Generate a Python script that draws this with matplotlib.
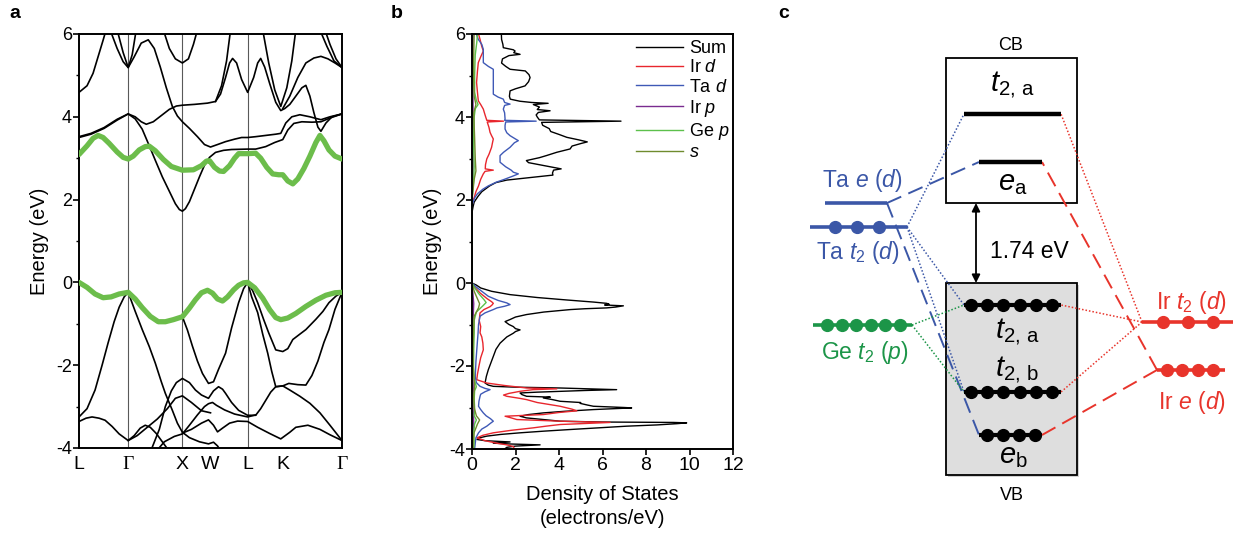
import numpy as np
import matplotlib.pyplot as plt
from matplotlib.patches import Rectangle

plt.rcParams['font.family'] = ['Liberation Sans', 'DejaVu Sans']
plt.rcParams['axes.unicode_minus'] = False
plt.rcParams['mathtext.fontset'] = 'custom'
plt.rcParams['mathtext.rm'] = 'Liberation Sans'
plt.rcParams['mathtext.it'] = 'Liberation Sans:italic'

# ---------------- (a) band structure along L-Γ-X-W-L-K-Γ ----------------
kpath_labels = ['L', 'Γ', 'X', 'W', 'L', 'K', 'Γ']
kpath_pos = [0, 49, 103, 131, 168, 203, 262]
kpath_lines = [49, 103, 168]

# highlighted Ge-p bands (k, E)
green_cb = [(0, 3.09), (8, 3.30), (14, 3.48), (19, 3.55), (24, 3.50), (30, 3.36), (38, 3.15), (44, 3.02),
            (49, 2.98), (54, 3.05), (60, 3.20), (66, 3.28), (70, 3.29), (76, 3.18), (84, 2.97), (92, 2.80),
            (103, 2.71), (114, 2.72), (122, 2.82), (127, 2.93), (130, 2.94), (135, 2.78), (140, 2.69),
            (144, 2.68), (150, 2.82), (155, 3.00), (159, 3.11), (168, 3.11), (176, 3.12), (181, 3.00),
            (187, 2.78), (193, 2.62), (199, 2.60), (203, 2.60), (208, 2.45), (213, 2.38), (218, 2.50),
            (224, 2.75), (230, 3.05), (236, 3.38), (240, 3.55), (244, 3.42), (249, 3.20), (255, 3.05),
            (262, 2.98)]
green_vb = [(0, 0.0), (8, -0.12), (16, -0.28), (24, -0.37), (32, -0.35), (40, -0.28), (49, -0.24),
            (56, -0.40), (63, -0.61), (71, -0.82), (79, -0.95), (86, -0.95), (94, -0.90), (103, -0.83),
            (110, -0.62), (116, -0.42), (122, -0.25), (128, -0.19), (133, -0.26), (138, -0.40), (143, -0.45),
            (148, -0.35), (154, -0.18), (159, -0.07), (164, -0.01), (168, 0.0), (175, -0.13), (183, -0.38),
            (190, -0.66), (196, -0.85), (201, -0.90), (208, -0.86), (216, -0.75), (226, -0.58), (236, -0.43),
            (246, -0.31), (255, -0.25), (262, -0.24)]

# conduction bands
cb1 = [(0, 3.50), (12, 3.58), (25, 3.72), (38, 3.92), (49, 4.07), (56, 3.95), (63, 3.70), (70, 3.30),
       (76, 2.95), (83, 2.55), (90, 2.20), (96, 1.90), (100, 1.76), (103, 1.72), (106, 1.78), (110, 1.95),
       (115, 2.25), (120, 2.55), (125, 2.83), (130, 3.02), (136, 3.14), (144, 3.19), (152, 3.21),
       (168, 3.22), (176, 3.22), (186, 3.28), (195, 3.38), (203, 3.45), (208, 3.68), (214, 3.84),
       (222, 3.88), (232, 3.87), (241, 3.88), (250, 3.97), (262, 4.07)]
cb2 = [(0, 3.52), (12, 3.60), (25, 3.74), (38, 3.94), (49, 4.07), (56, 4.00), (62, 3.88), (67, 3.82),
       (74, 3.88), (82, 4.03), (90, 4.18), (97, 4.26), (103, 4.28), (115, 4.30), (128, 4.33), (136, 4.37),
       (141, 4.55), (146, 4.95), (150, 5.30), (153, 5.41), (157, 5.30), (162, 4.90), (168, 4.59),
       (174, 4.95), (178, 5.30), (181, 5.41), (185, 5.20), (190, 4.80), (196, 4.35), (201, 4.15),
       (205, 4.20), (210, 4.30), (216, 4.50), (222, 4.70), (226, 4.76), (230, 4.50), (234, 4.10),
       (238, 3.75), (241, 3.65), (246, 3.85), (252, 4.00), (262, 4.07)]
cb3 = [(38, 6.10), (44, 5.55), (49, 5.19), (55, 5.45), (62, 5.78), (69, 5.86), (75, 5.65), (81, 5.20),
       (87, 4.70), (93, 4.25), (98, 4.02), (103, 3.88), (110, 3.72), (118, 3.52), (125, 3.33), (131, 3.27),
       (138, 3.33), (146, 3.40), (155, 3.46), (162, 3.50), (168, 3.50), (176, 3.52), (186, 3.55),
       (196, 3.58), (201, 3.60), (206, 3.85), (212, 4.00), (220, 4.05), (230, 4.00), (241, 3.93),
       (250, 4.00), (262, 4.07)]
cb4 = [(0, 4.59), (8, 4.75), (14, 5.05), (19, 5.45), (24, 5.85), (27, 6.10)]
cb5 = [(31, 6.10), (38, 5.65), (44, 5.33), (49, 5.19), (53, 5.50), (57, 6.10)]
cb6 = [(84, 6.10), (90, 5.65), (96, 5.40), (103, 5.30), (109, 5.40), (114, 5.75), (118, 6.10)]
cb7 = [(136, 4.37), (142, 4.75), (147, 5.35), (151, 6.10)]
cb8 = [(183, 6.10), (189, 5.30), (195, 4.65), (201, 4.25), (207, 4.70), (212, 5.35), (216, 6.10)]
cb9 = [(203, 4.20), (210, 4.50), (218, 4.95), (226, 5.30), (234, 5.42), (241, 5.46), (248, 5.40),
       (255, 5.30), (262, 5.19)]
cb10 = [(245, 6.10), (250, 5.75), (256, 5.40), (262, 5.19)]
cb11 = [(240, 6.10), (247, 5.70), (254, 5.35), (262, 5.19)]

# valence bands
vb1 = [(0, -3.25), (8, -3.05), (16, -2.60), (23, -2.00), (29, -1.46), (35, -0.95), (40, -0.60),
       (45, -0.35), (49, -0.24)]
vb2 = [(49, -0.24), (56, -0.70), (63, -1.14), (70, -1.55), (76, -1.95), (82, -2.40), (86, -2.68),
       (93, -3.09), (98, -3.40), (103, -3.62), (110, -3.75), (120, -3.85), (129, -3.90), (134, -3.86),
       (138, -3.95), (142, -4.10)]
vb3 = [(103, -0.83), (108, -1.15), (113, -1.54), (118, -1.90), (123, -2.20), (129, -2.44), (134, -2.40),
       (139, -2.10), (146, -1.71), (152, -1.10), (159, -0.49), (164, -0.15), (168, 0.0)]
vb4 = [(168, 0.0), (173, -0.20), (178, -0.49), (184, -0.90), (189, -1.22), (196, -1.63), (203, -1.67),
       (208, -1.60), (213, -1.38), (220, -1.25), (226, -1.14), (236, -0.89), (243, -0.70), (249, -0.49),
       (256, -0.33), (262, -0.24)]
vb5 = [(168, 0.0), (172, -0.35), (178, -0.73), (183, -1.25), (188, -1.71), (192, -2.15), (196, -2.52),
       (203, -2.50), (209, -2.44), (218, -2.47), (226, -2.48), (232, -2.25), (238, -1.90), (244, -1.45),
       (249, -1.14), (255, -0.65), (262, -0.24)]
vb6 = [(73, -3.98), (80, -3.55), (86, -3.00), (92, -2.62), (97, -2.42), (103, -2.32), (110, -2.42),
       (116, -2.60), (122, -2.72), (129, -2.80), (134, -2.62), (139, -2.52), (143, -2.58), (146, -2.68),
       (152, -2.90), (159, -3.09), (168, -3.21), (176, -3.21), (181, -3.05), (186, -2.85), (191, -2.65),
       (196, -2.52), (203, -2.50), (210, -2.60), (220, -2.75), (230, -2.92), (240, -3.15), (250, -3.45),
       (262, -3.82)]
vb7 = [(78, -4.05), (85, -3.85), (95, -3.72), (103, -3.66), (110, -3.45), (118, -3.20), (125, -3.00),
       (129, -2.93), (133, -2.90), (137, -2.97), (145, -3.08), (155, -3.18), (168, -3.25), (176, -3.20)]
vb8 = [(103, -3.64), (112, -3.55), (122, -3.40), (129, -3.32), (134, -3.45), (138, -3.61), (143, -3.52),
       (150, -3.40), (158, -3.35), (168, -3.36), (178, -3.50), (190, -3.65), (201, -3.78), (210, -3.62),
       (216, -3.50), (228, -3.45), (240, -3.55), (250, -3.68), (262, -3.82)]
vb9 = [(0, -3.36), (7, -3.28), (13, -3.25), (20, -3.28), (26, -3.33), (33, -3.48), (40, -3.66),
       (49, -3.82), (55, -3.70), (61, -3.52), (66, -3.45), (71, -3.50), (77, -3.65), (83, -3.85),
       (89, -4.05)]
vb10 = [(49, -3.82), (58, -3.70), (68, -3.50), (78, -3.30), (88, -3.05), (96, -2.80), (103, -2.74),
        (112, -2.90), (122, -3.10), (131, -3.15)]

conduction_bands = [cb1, cb2, cb3, cb4, cb5, cb6, cb7, cb8, cb9, cb10, cb11]
valence_bands = [vb1, vb2, vb3, vb4, vb5, vb6, vb7, vb8, vb9, vb10]

# ---------------- (b) projected density of states (E, DOS) ----------------
dos_sum = [(6.0, 1.35), (5.87, 1.36), (5.75, 1.42), (5.67, 1.44), (5.62, 1.90), (5.59, 1.98), (5.55, 1.92),
           (5.51, 2.21), (5.48, 1.70), (5.40, 1.40), (5.30, 1.36), (5.22, 1.55), (5.15, 1.75), (5.11, 2.45),
           (5.02, 2.62), (4.95, 2.67), (4.85, 2.60), (4.75, 2.44), (4.68, 2.00), (4.63, 1.75), (4.50, 1.72),
           (4.43, 1.76), (4.38, 2.20), (4.35, 2.74), (4.33, 3.50), (4.30, 2.82), (4.24, 3.10), (4.18, 3.00),
           (4.15, 3.59), (4.11, 3.05), (4.05, 2.95), (4.00, 3.00), (3.93, 3.10), (3.90, 6.85), (3.87, 3.20),
           (3.80, 3.25), (3.72, 3.55), (3.65, 3.62), (3.58, 4.00), (3.51, 4.36), (3.45, 4.90), (3.40, 5.30),
           (3.36, 5.00), (3.30, 4.60), (3.23, 4.51), (3.15, 3.90), (3.07, 3.42), (3.02, 3.10), (2.95, 2.50),
           (2.90, 2.60), (2.83, 3.30), (2.78, 3.79), (2.75, 4.10), (2.72, 3.75), (2.65, 3.70), (2.60, 3.72),
           (2.56, 3.00), (2.52, 2.30), (2.48, 1.60), (2.42, 1.10), (2.34, 0.81), (2.20, 0.45), (2.09, 0.28),
           (1.95, 0.10), (1.84, 0.05), (1.70, 0.0), (0.0, 0.0), (-0.05, 0.20), (-0.12, 0.40), (-0.20, 0.90),
           (-0.28, 1.75), (-0.35, 3.00), (-0.41, 4.38), (-0.46, 5.60), (-0.49, 6.19), (-0.51, 6.30),
           (-0.53, 6.10), (-0.55, 6.96), (-0.58, 6.60), (-0.60, 6.19), (-0.62, 5.20), (-0.64, 4.53),
           (-0.70, 3.30), (-0.76, 2.51), (-0.82, 2.00), (-0.88, 1.75), (-0.93, 1.52), (-1.00, 1.70),
           (-1.05, 1.90), (-1.10, 2.00), (-1.13, 2.21), (-1.17, 2.00), (-1.21, 1.90), (-1.30, 1.60),
           (-1.45, 1.29), (-1.60, 1.10), (-1.77, 0.98), (-1.95, 0.85), (-2.09, 0.75), (-2.25, 0.66),
           (-2.41, 0.60), (-2.46, 0.75), (-2.49, 0.98), (-2.51, 2.00), (-2.53, 4.05), (-2.56, 6.00),
           (-2.57, 6.65), (-2.59, 5.20), (-2.61, 4.05), (-2.63, 3.00), (-2.65, 2.21), (-2.69, 2.30),
           (-2.73, 2.51), (-2.75, 3.60), (-2.77, 3.28), (-2.81, 3.70), (-2.85, 4.05), (-2.88, 5.00),
           (-2.90, 4.97), (-2.94, 5.30), (-2.97, 5.58), (-3.00, 7.00), (-3.01, 7.34), (-3.03, 6.40),
           (-3.05, 5.58), (-3.09, 4.30), (-3.13, 3.28), (-3.17, 2.60), (-3.21, 2.21), (-3.25, 2.50),
           (-3.29, 3.30), (-3.33, 4.05), (-3.35, 6.00), (-3.36, 9.26), (-3.37, 9.87), (-3.39, 9.42),
           (-3.42, 8.50), (-3.45, 7.11), (-3.49, 5.80), (-3.53, 4.53), (-3.57, 3.30), (-3.61, 2.21),
           (-3.65, 1.30), (-3.69, 0.68), (-3.73, 0.35), (-3.77, 0.23), (-3.80, 0.60), (-3.83, 1.75),
           (-3.86, 0.98), (-3.88, 1.80), (-3.90, 3.13), (-3.93, 2.00), (-3.96, 1.60), (-4.0, 1.50)]
dos_ir_d = [(6.0, 0.30), (5.87, 0.37), (5.70, 0.45), (5.59, 0.52), (5.45, 0.40), (5.31, 0.29), (5.10, 0.25),
            (4.83, 0.21), (4.60, 0.25), (4.39, 0.29), (4.30, 0.40), (4.19, 0.52), (4.05, 0.60), (3.92, 0.68),
            (3.90, 1.45), (3.88, 0.70), (3.75, 0.78), (3.63, 0.83), (3.55, 0.90), (3.47, 0.98), (3.40, 0.95),
            (3.27, 0.90), (3.10, 0.78), (2.99, 0.68), (2.85, 0.62), (2.75, 0.61), (2.72, 0.98), (2.69, 0.60),
            (2.63, 0.52), (2.50, 0.40), (2.34, 0.30), (2.20, 0.18), (2.09, 0.12), (1.95, 0.03), (1.85, 0.0),
            (0.0, 0.0), (-0.10, 0.12), (-0.24, 0.37), (-0.38, 0.70), (-0.45, 0.90), (-0.49, 0.98),
            (-0.53, 0.92), (-0.57, 0.83), (-0.64, 0.55), (-0.72, 0.37), (-0.90, 0.33), (-1.05, 0.40),
            (-1.20, 0.37), (-1.30, 0.45), (-1.45, 0.50), (-1.61, 0.52), (-1.80, 0.40), (-2.00, 0.32),
            (-2.20, 0.25), (-2.33, 0.22), (-2.41, 0.68), (-2.47, 1.50), (-2.53, 2.51), (-2.55, 3.90),
            (-2.57, 2.80), (-2.61, 2.21), (-2.66, 1.70), (-2.70, 1.45), (-2.73, 1.60), (-2.78, 2.20),
            (-2.81, 2.51), (-2.88, 3.00), (-2.97, 4.05), (-3.04, 4.60), (-3.08, 4.82), (-3.12, 4.00),
            (-3.17, 3.28), (-3.21, 1.52), (-3.25, 1.80), (-3.29, 2.06), (-3.33, 4.05), (-3.36, 6.35),
            (-3.39, 5.00), (-3.41, 4.05), (-3.45, 3.40), (-3.49, 2.82), (-3.55, 1.80), (-3.61, 0.98),
            (-3.67, 0.50), (-3.73, 0.23), (-3.80, 0.60), (-3.86, 1.14), (-3.90, 1.60), (-3.94, 1.90),
            (-4.0, 1.95)]
dos_ta_d = [(6.0, 0.20), (5.87, 0.29), (5.75, 0.45), (5.63, 0.52), (5.50, 0.52), (5.31, 0.52), (5.22, 0.75),
            (5.15, 0.98), (5.00, 0.98), (4.75, 0.98), (4.55, 0.98), (4.48, 1.20), (4.43, 1.44), (4.35, 1.50),
            (4.31, 1.75), (4.28, 1.50), (4.19, 1.44), (4.10, 1.50), (3.95, 1.52), (3.92, 1.50), (3.90, 2.95),
            (3.88, 1.55), (3.80, 1.52), (3.71, 1.52), (3.62, 1.60), (3.55, 1.75), (3.47, 2.00), (3.43, 2.13),
            (3.38, 1.95), (3.27, 1.75), (3.15, 1.45), (3.07, 1.29), (2.91, 1.29), (2.80, 1.55), (2.72, 1.80),
            (2.67, 1.90), (2.63, 2.13), (2.58, 1.90), (2.50, 1.50), (2.43, 1.12), (2.34, 0.75), (2.26, 0.50),
            (2.15, 0.25), (2.05, 0.12), (1.90, 0.02), (1.80, 0.0), (0.0, 0.0), (-0.10, 0.20), (-0.20, 0.45),
            (-0.32, 0.75), (-0.42, 1.20), (-0.48, 1.60), (-0.52, 1.75), (-0.56, 1.50), (-0.60, 1.15),
            (-0.64, 0.98), (-0.72, 0.60), (-0.80, 0.37), (-1.00, 0.30), (-1.20, 0.28), (-1.40, 0.25),
            (-1.61, 0.22), (-1.90, 0.18), (-2.25, 0.15), (-2.40, 0.20), (-2.49, 0.37), (-2.54, 0.60),
            (-2.57, 0.83), (-2.62, 0.60), (-2.68, 0.40), (-2.73, 0.37), (-2.85, 0.32), (-2.97, 0.30),
            (-3.05, 0.40), (-3.13, 0.52), (-3.20, 0.65), (-3.27, 0.85), (-3.33, 0.98), (-3.38, 0.85),
            (-3.45, 0.68), (-3.52, 0.45), (-3.61, 0.30), (-3.73, 0.18), (-3.86, 0.15), (-4.0, 0.12)]
dos_ir_p = [(6.0, 0.05), (5.0, 0.04), (4.0, 0.05), (3.0, 0.05), (2.4, 0.04), (2.1, 0.0), (0.0, 0.0),
            (-0.3, 0.05), (-0.5, 0.08), (-1.0, 0.04), (-2.0, 0.03), (-2.6, 0.06), (-3.0, 0.05),
            (-3.35, 0.08), (-3.7, 0.04), (-4.0, 0.05)]
dos_ge_p = [(6.0, 0.25), (5.8, 0.22), (5.5, 0.15), (5.0, 0.12), (4.6, 0.12), (4.4, 0.20), (4.3, 0.28),
            (4.2, 0.15), (4.0, 0.10), (3.6, 0.08), (3.2, 0.08), (2.8, 0.10), (2.5, 0.08), (2.2, 0.03),
            (2.0, 0.0), (0.0, 0.0), (-0.1, 0.10), (-0.25, 0.30), (-0.4, 0.55), (-0.47, 0.65), (-0.55, 0.50),
            (-0.7, 0.20), (-0.9, 0.10), (-1.2, 0.10), (-1.6, 0.08), (-2.0, 0.07), (-2.3, 0.10), (-2.5, 0.20),
            (-2.6, 0.12), (-2.8, 0.10), (-3.0, 0.12), (-3.2, 0.10), (-3.3, 0.20), (-3.4, 0.12), (-3.6, 0.08),
            (-3.8, 0.10), (-4.0, 0.08)]
dos_s = [(6.0, 0.10), (5.5, 0.08), (5.0, 0.07), (4.5, 0.10), (4.3, 0.18), (4.1, 0.08), (3.5, 0.12),
         (3.0, 0.15), (2.7, 0.18), (2.5, 0.10), (2.2, 0.04), (2.0, 0.0), (0.0, 0.0), (-0.2, 0.10),
         (-0.5, 0.35), (-0.6, 0.30), (-0.8, 0.10), (-1.5, 0.05), (-2.0, 0.05), (-2.5, 0.12), (-2.7, 0.08),
         (-3.0, 0.10), (-3.2, 0.20), (-3.3, 0.35), (-3.4, 0.25), (-3.6, 0.10), (-3.8, 0.05), (-4.0, 0.05)]

dos_curves = [dos_sum, dos_ir_d, dos_ta_d, dos_ir_p, dos_ge_p, dos_s]
dos_labels = ['Sum', 'Ir $d$', 'Ta $d$', 'Ir $p$', 'Ge $p$', '$s$']
dos_colors = ['black', '#e8262d', '#3f59b6', '#7a2b8f', '#5cc04b', '#6f8b2e']

# ---------------- (c) orbital level scheme ----------------
gap_label = '1.74 eV'
electrons = {'Ta e': 0, 'Ta t2': 3, 'Ge t2': 6, 'Ir t2': 3, 'Ir e': 4,
             'VB t2a': 6, 'VB t2b': 6, 'VB eb': 4, 'CB t2a': 0, 'CB ea': 0}

BLUE = '#3b57a7'
GREEN = '#1c9548'
RED = '#e8342b'

fig = plt.figure(figsize=(12.39, 5.40), dpi=100)


def px_axes(x0, y0, x1, y1):
    W, H = 1239, 540
    return fig.add_axes([x0 / W, 1 - y1 / H, (x1 - x0) / W, (y1 - y0) / H])


# ---- panel a ----
ax = px_axes(79, 34, 342, 448)
for kx in kpath_lines:
    ax.axvline(kx, color='0.35', lw=0.8, zorder=1)
for band in conduction_bands + valence_bands:
    k, e = zip(*band)
    ax.plot(k, e, color='black', lw=1.2, zorder=2, solid_joinstyle='round')
for band in (green_cb, green_vb):
    k, e = zip(*band)
    ax.plot(k, e, color='#6cbd4b', lw=3.8, zorder=3, solid_joinstyle='round', solid_capstyle='round')
ax.set_xlim(kpath_pos[0], kpath_pos[-1])
ax.set_ylim(-4, 6)
ax.set_yticks([-4, -2, 0, 2, 4, 6])
ax.set_yticks([-3, -1, 1, 3, 5], minor=True)
ax.set_xticks(kpath_pos)
ax.set_xticklabels(kpath_labels, fontsize=14)
for lab in ax.get_xticklabels():
    if lab.get_text() == 'Γ':
        lab.set_fontfamily('Liberation Serif')
ax.tick_params(axis='x', length=0, pad=6)
ax.tick_params(axis='y', which='major', length=4, width=1.2, labelsize=13, direction='out', pad=1)
ax.tick_params(axis='y', which='minor', length=2.5, width=1.0, direction='out')
ax.set_ylabel('Energy (eV)', fontsize=14.5, labelpad=5)
for s in ax.spines.values():
    s.set_linewidth(1.4)

# ---- panel b ----
bx = px_axes(472, 34, 733, 449)
handles = []
for curve, lab, col in zip(dos_curves, dos_labels, dos_colors):
    e, d = zip(*curve)
    h, = bx.plot(d, e, color=col, lw=1.0, label=lab)
    handles.append(h)
bx.set_xlim(0, 12)
bx.set_ylim(-4, 6)
bx.set_xticks(range(0, 13, 2))
bx.set_yticks([-4, -2, 0, 2, 4, 6])
bx.set_yticks([-3, -1, 1, 3, 5], minor=True)
bx.tick_params(axis='x', length=4, width=1.2, labelsize=14, direction='out', pad=2)
bx.tick_params(axis='y', which='major', length=4, width=1.2, labelsize=13, direction='out', pad=1)
bx.tick_params(axis='y', which='minor', length=2.5, width=1.0, direction='out')
bx.set_ylabel('Energy (eV)', fontsize=14.5, labelpad=5)
bx.set_xlabel('Density of States\n(electrons/eV)', fontsize=14.5, labelpad=8, linespacing=1.3)
for s in bx.spines.values():
    s.set_linewidth(1.4)
bx.legend(handles=handles, loc='upper left', bbox_to_anchor=(0.63, 0.985), frameon=False,
          fontsize=13, handlelength=2.6, handletextpad=0.3, labelspacing=0.12,
          borderpad=0, borderaxespad=0)

# ---- panel c ----
cx = fig.add_axes([780 / 1239, 0, 459 / 1239, 1])
cx.set_xlim(780, 1239)
cx.set_ylim(540, 0)
cx.axis('off')

cx.add_patch(Rectangle((946, 58), 131, 145, facecolor='white', edgecolor='black', lw=1.3, zorder=1))
cx.add_patch(Rectangle((948, 285), 131, 192, facecolor='#d2d2d2', edgecolor='none', lw=0, zorder=0))
cx.add_patch(Rectangle((946, 283), 131, 192, facecolor='#dedede', edgecolor='black', lw=1.3, zorder=1))
cx.text(1011, 46, 'CB', fontsize=13, ha='center', va='center')
cx.text(1012, 495, 'VB', fontsize=13, ha='center', va='center')


def level(x0, x1, y, n, color, lw, margin_l=6, margin_r=6, ms=8.5):
    cx.plot([x0, x1], [y, y], color=color, lw=lw, solid_capstyle='butt', zorder=4)
    if n > 0:
        xs = np.linspace(x0 + margin_l, x1 - margin_r, n)
        cx.plot(xs, [y] * n, 'o', color=color, ms=ms, zorder=5)


def link(p, q, color, style):
    ls = (0, (1, 1.3)) if style == 'dot' else (0, (8, 4))
    lw = 1.1 if style == 'dot' else 1.4
    cx.plot([p[0], q[0]], [p[1], q[1]], color=color, lw=lw, ls=ls, zorder=3)


# connectors
link((887, 203), (979, 162), BLUE, 'dash')
link((887, 203), (979, 435), BLUE, 'dash')
link((907, 227), (964, 114), BLUE, 'dot')
link((907, 227), (964, 305), BLUE, 'dot')
link((907, 227), (964, 392), BLUE, 'dot')
link((912, 325), (964, 305), GREEN, 'dot')
link((912, 325), (964, 392), GREEN, 'dot')
link((1142, 322), (1061, 114), RED, 'dot')
link((1142, 322), (1061, 305), RED, 'dot')
link((1142, 322), (1061, 392), RED, 'dot')
link((1157, 370), (1042, 162), RED, 'dash')
link((1157, 370), (1042, 435), RED, 'dash')

# crystal-field levels
level(964, 1061, 114, electrons['CB t2a'], 'black', 3.2)
level(979, 1042, 162, electrons['CB ea'], 'black', 3.2)
level(964, 1061, 305, electrons['VB t2a'], 'black', 3.0, 7, 9)
level(964, 1061, 392, electrons['VB t2b'], 'black', 3.0, 7, 9)
level(979, 1042, 435, electrons['VB eb'], 'black', 3.0, 8, 7)
level(825, 887, 203, electrons['Ta e'], BLUE, 2.6)
level(810, 907, 227, electrons['Ta t2'], BLUE, 2.6, 25, 28)
level(813, 912, 325, electrons['Ge t2'], GREEN, 2.6, 14, 12)
level(1142, 1233, 322, electrons['Ir t2'], RED, 2.6, 21, 20)
level(1157, 1225, 370, electrons['Ir e'], RED, 2.6, 10, 12)

cx.text(1012, 86, r'$t_{2,\,\mathrm{a}}$', fontsize=21, ha='center', va='center')
cx.text(1013, 183, r'$e_{\mathrm{a}}$', fontsize=21, ha='center', va='center')
cx.text(1017, 332, r'$t_{2,\,\mathrm{a}}$', fontsize=21, ha='center', va='center')
cx.text(1017, 370, r'$t_{2,\,\mathrm{b}}$', fontsize=21, ha='center', va='center')
cx.text(1013, 456, r'$e_{\mathrm{b}}$', fontsize=21, ha='center', va='center')

cx.annotate('', xy=(976, 203), xytext=(976, 283),
            arrowprops=dict(arrowstyle='<|-|>', color='black', lw=1.3, shrinkA=0, shrinkB=0,
                            mutation_scale=12))
cx.text(990, 252, gap_label, fontsize=16.5, ha='left', va='center')

cx.text(862, 180, 'Ta $e$ ($d$)', fontsize=16.5, color=BLUE, ha='center', va='center')
cx.text(858, 252, 'Ta $t_2$ ($d$)', fontsize=16.5, color=BLUE, ha='center', va='center')
cx.text(865, 353, 'Ge $t_2$ ($p$)', fontsize=16.5, color=GREEN, ha='center', va='center')
cx.text(1192, 302, 'Ir $t_2$ ($d$)', fontsize=16.5, color=RED, ha='center', va='center')
cx.text(1192, 402, 'Ir $e$ ($d$)', fontsize=16.5, color=RED, ha='center', va='center')

# panel letters
for lx, letter in [(15, 'a'), (397, 'b'), (784, 'c')]:
    fig.text(lx / 1239, 1 - 13 / 540, letter, fontsize=14, fontweight='bold', ha='center', va='center')

fig.savefig('out.png', dpi=100)
